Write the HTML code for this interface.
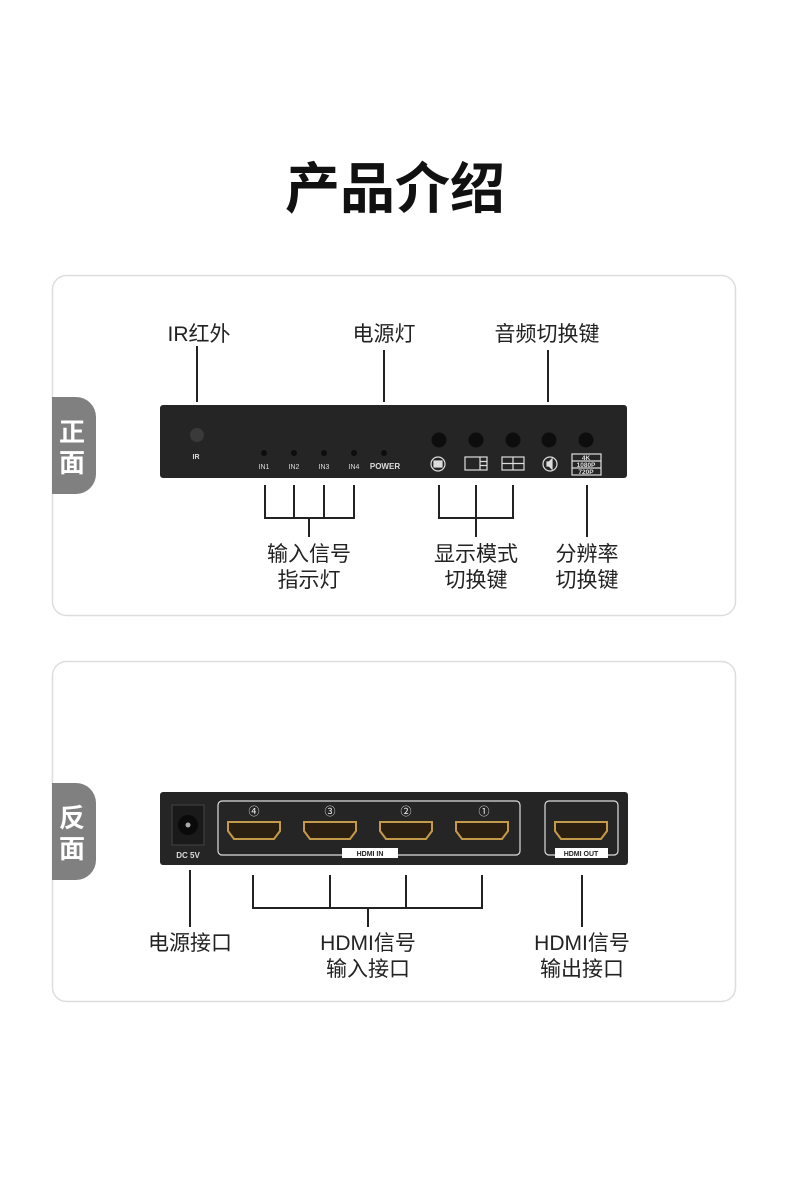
<!DOCTYPE html>
<html><head><meta charset="utf-8"><style>
html,body{margin:0;padding:0;background:#fff}
svg{display:block}
text{font-family:"Liberation Sans","Noto Sans CJK SC",sans-serif}
</style></head><body>
<svg width="790" height="1199" viewBox="0 0 790 1199" xmlns="http://www.w3.org/2000/svg">
<rect width="790" height="1199" fill="#fff"/>
<text x="395" y="208" text-anchor="middle" font-size="55" font-weight="bold" fill="#111">产品介绍</text>

<!-- card 1 -->
<rect x="52.5" y="275.5" width="683" height="340" rx="14" fill="#fff" stroke="#ddd" stroke-width="1.5"/>
<path d="M52 397 H76 A20 20 0 0 1 96 417 V474 A20 20 0 0 1 76 494 H52 Z" fill="#808080"/>
<text x="72" y="441" text-anchor="middle" font-size="26" font-weight="bold" fill="#fff">正</text>
<text x="72" y="472" text-anchor="middle" font-size="26" font-weight="bold" fill="#fff">面</text>

<g fill="#222" font-size="21">
<text x="199" y="341" text-anchor="middle">IR红外</text>
<text x="384" y="341" text-anchor="middle">电源灯</text>
<text x="547" y="341" text-anchor="middle">音频切换键</text>
<text x="309" y="561" text-anchor="middle">输入信号</text>
<text x="309" y="587" text-anchor="middle">指示灯</text>
<text x="476" y="561" text-anchor="middle">显示模式</text>
<text x="476" y="587" text-anchor="middle">切换键</text>
<text x="587" y="561" text-anchor="middle">分辨率</text>
<text x="587" y="587" text-anchor="middle">切换键</text>
</g>
<g stroke="#222" stroke-width="2" fill="none">
<path d="M197 346V402 M384 350V402 M548 350V402"/>
<path d="M265 485V518 M294 485V518 M324 485V518 M354 485V518 M264 518H355 M309 518V537"/>
<path d="M439 485V518 M476 485V518 M513 485V518 M438 518H514 M476 518V537"/>
<path d="M587 485V537"/>
</g>

<!-- front device -->
<rect x="160" y="405" width="467" height="73" rx="3" fill="#252525"/>
<circle cx="197" cy="435" r="7" fill="#3a3a3a"/>
<text x="196" y="459" text-anchor="middle" font-size="7" font-weight="bold" fill="#ddd">IR</text>
<g fill="#0d0d0d">
<circle cx="264" cy="453" r="3"/><circle cx="294" cy="453" r="3"/><circle cx="324" cy="453" r="3"/><circle cx="354" cy="453" r="3"/><circle cx="384" cy="453" r="3"/>
<circle cx="439" cy="440" r="7.5"/><circle cx="476" cy="440" r="7.5"/><circle cx="513" cy="440" r="7.5"/><circle cx="549" cy="440" r="7.5"/><circle cx="586" cy="440" r="7.5"/>
</g>
<g fill="#ddd" font-size="7" text-anchor="middle">
<text x="264" y="469">IN1</text><text x="294" y="469">IN2</text><text x="324" y="469">IN3</text><text x="354" y="469">IN4</text>
<text x="385" y="469" font-weight="bold" font-size="8">POWER</text>
</g>
<g stroke="#ddd" stroke-width="1.2" fill="none">
<circle cx="438" cy="464" r="7"/><rect x="434" y="461" width="8" height="6" fill="#ddd"/>
<rect x="465" y="457" width="22" height="13"/><path d="M480 457V470 M480 461.5H487 M480 465.5H487"/>
<rect x="502" y="457" width="22" height="13"/><path d="M513 457V470 M502 463.5H524"/>
<circle cx="550" cy="464" r="7"/><path d="M547 462h2l3-3v10l-3-3h-2z" fill="#ddd"/>
<rect x="572" y="454" width="29" height="21"/><path d="M572 461H601 M572 468H601"/>
</g>
<g fill="#ddd" font-size="6.5" font-weight="bold" text-anchor="middle">
<text x="586" y="460">4K</text><text x="586" y="467">1080P</text><text x="586" y="474">720P</text>
</g>

<!-- card 2 -->
<rect x="52.5" y="661.5" width="683" height="340" rx="14" fill="#fff" stroke="#ddd" stroke-width="1.5"/>
<path d="M52 783 H76 A20 20 0 0 1 96 803 V860 A20 20 0 0 1 76 880 H52 Z" fill="#808080"/>
<text x="72" y="827" text-anchor="middle" font-size="26" font-weight="bold" fill="#fff">反</text>
<text x="72" y="858" text-anchor="middle" font-size="26" font-weight="bold" fill="#fff">面</text>

<rect x="160" y="792" width="468" height="73" rx="3" fill="#252525"/>
<rect x="172" y="805" width="32" height="40" fill="#1a1a1a" stroke="#444"/>
<circle cx="188" cy="825" r="10" fill="#0a0a0a"/><circle cx="188" cy="825" r="2.5" fill="#aaa"/>
<text x="188" y="858" text-anchor="middle" font-size="8" font-weight="bold" fill="#ddd">DC 5V</text>
<g stroke="#ddd" stroke-width="1.2" fill="none">
<rect x="218" y="801" width="302" height="54" rx="4"/>
<rect x="545" y="801" width="73" height="54" rx="4"/>
</g>
<rect x="342" y="848" width="56" height="10" fill="#fff"/>
<text x="370" y="856" text-anchor="middle" font-size="7" font-weight="bold" fill="#222">HDMI IN</text>
<rect x="555" y="848" width="53" height="10" fill="#fff"/>
<text x="581" y="856" text-anchor="middle" font-size="7" font-weight="bold" fill="#222">HDMI OUT</text>
<g fill="#eee" font-size="11" text-anchor="middle">
<text x="254" y="815">④</text><text x="330" y="815">③</text><text x="406" y="815">②</text><text x="484" y="815">①</text>
</g>
<g fill="#2a1f10" stroke="#c29a4a" stroke-width="2">
<path d="M228 822h52v9l-6 8h-40l-6-8z"/>
<path d="M304 822h52v9l-6 8h-40l-6-8z"/>
<path d="M380 822h52v9l-6 8h-40l-6-8z"/>
<path d="M456 822h52v9l-6 8h-40l-6-8z"/>
<path d="M555 822h52v9l-6 8h-40l-6-8z"/>
</g>

<g fill="#222" font-size="21">
<text x="190" y="950" text-anchor="middle">电源接口</text>
<text x="368" y="950" text-anchor="middle">HDMI信号</text>
<text x="368" y="976" text-anchor="middle">输入接口</text>
<text x="582" y="950" text-anchor="middle">HDMI信号</text>
<text x="582" y="976" text-anchor="middle">输出接口</text>
</g>
<g stroke="#222" stroke-width="2" fill="none">
<path d="M190 870V927"/>
<path d="M253 875V908 M330 875V908 M406 875V908 M482 875V908 M252 908H483 M368 908V927"/>
<path d="M582 875V927"/>
</g>
</svg>
</body></html>
